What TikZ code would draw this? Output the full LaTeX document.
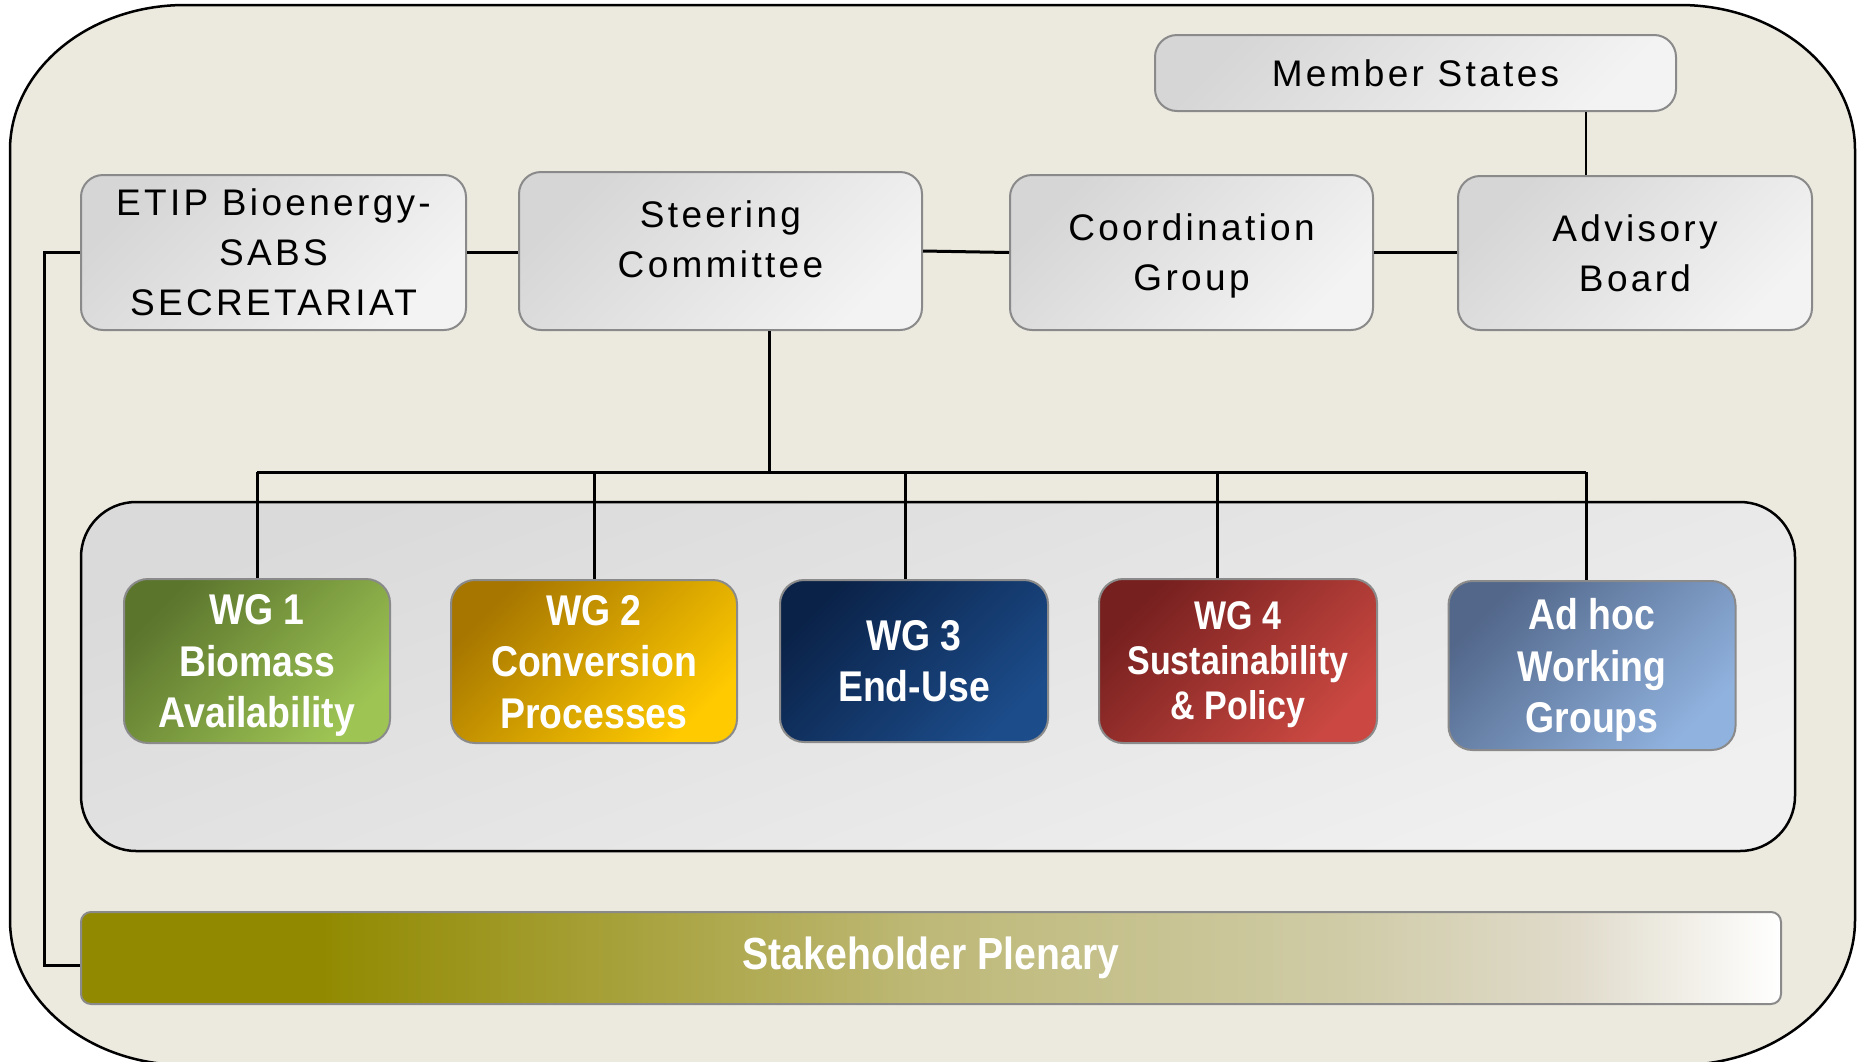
\documentclass[tikz,border=0pt]{standalone}
\usepackage{fontspec}
\setmainfont{Liberation Sans}
\newfontfamily\boxfont[LetterSpace=9]{Liberation Sans}
\newfontfamily\wgfont[FakeStretch=0.87]{Liberation Sans}
\newfontfamily\wgfontn[FakeStretch=0.85]{Liberation Sans}
\usetikzlibrary{calc}

\definecolor{bg}{HTML}{ECE9DF}
\definecolor{boxgrey}{HTML}{8A8A8A}
\definecolor{tA}{HTML}{D6D6D6}
\definecolor{tB}{HTML}{F3F3F3}
\definecolor{pA}{HTML}{DADADA}
\definecolor{pB}{HTML}{F0F0F0}
\definecolor{gOneA}{HTML}{5B752D}
\definecolor{gOneB}{HTML}{9EC454}
\definecolor{gTwoA}{HTML}{A67600}
\definecolor{gTwoB}{HTML}{FFCA00}
\definecolor{gThreeA}{HTML}{0A2248}
\definecolor{gThreeB}{HTML}{1C4C8A}
\definecolor{gFourA}{HTML}{76201F}
\definecolor{gFourB}{HTML}{CA4841}
\definecolor{gFiveA}{HTML}{52678A}
\definecolor{gFiveB}{HTML}{90B2DE}
\definecolor{olv}{HTML}{918A00}
\definecolor{olvmid}{HTML}{BEB978}
\definecolor{olvlt}{HTML}{CFCBA6}
\definecolor{olvvlt}{HTML}{E0DBCB}

\pgfdeclarehorizontalshading{plenary}{100bp}{color(0bp)=(olv); color(25bp)=(olv); color(32bp)=(olv); color(50bp)=(olvmid); color(62bp)=(olvlt); color(69bp)=(olvvlt); color(75bp)=(white); color(100bp)=(white)}

\tikzset{
  conn/.style={line width=3pt, black},
  topbox/.style={draw=boxgrey, line width=2pt, rounded corners=22pt,
    top color=tA, bottom color=tB, shading angle=45, inner sep=0pt,
    align=center, font={\boxfont\fontsize{37}{50}\selectfont}},
  wgbox/.style={draw=boxgrey, line width=2pt, rounded corners=24pt,
    inner sep=0pt, align=center, text=white, text depth=0pt,
    font={\wgfont\bfseries\fontsize{43}{51.5}\selectfont}},
  wgcol/.style 2 args={top color=#1, bottom color=#2, shading angle=45},
}

\begin{document}
\begin{tikzpicture}[x=1pt,y=-1pt]
\useasboundingbox (0,0) rectangle (1858,1061);
\clip (0,0) rectangle (1858,1061);
\fill[white] (0,0) rectangle (1858,1061);

% outer frame
\draw[fill=bg, line width=2.5pt]
  (185,5) -- (1680,5)
  arc[start angle=270, end angle=360, x radius=175, y radius=145]
  -- (1855,920)
  arc[start angle=0, end angle=90, x radius=175, y radius=145]
  -- (185,1065)
  arc[start angle=90, end angle=180, x radius=175, y radius=145]
  -- (10,150)
  arc[start angle=180, end angle=270, x radius=175, y radius=145]
  -- cycle;

% inner panel
\node[draw=black, line width=2.5pt, rounded corners=55pt, top color=pA, bottom color=pB,
  shading angle=20, minimum width=1714pt, minimum height=349pt, inner sep=0pt]
  (panel) at (938,676.5) {};

% top boxes
\node[topbox, minimum width=521pt, minimum height=76pt] (member) at (1415.5,73) {Member States};
\node[topbox, minimum width=385pt, minimum height=155pt] (etip) at (273.5,252.5) {ETIP Bioenergy-\\SABS\\SECRETARIAT};
\node[topbox, minimum width=403pt, minimum height=158pt, text depth=24pt] (steer) at (720.5,251) {Steering\\Committee};
\node[topbox, minimum width=363pt, minimum height=155pt, text depth=0pt] (coord) at (1191.5,252.5) {Coordination\\Group};
\node[topbox, minimum width=354pt, minimum height=154pt] (adv) at (1635,253) {Advisory\\Board};

% working groups
\node[wgbox, wgcol={gOneA}{gOneB}, minimum width=266pt, minimum height=164pt] (wg1) at (257,661) {WG 1\\Biomass\\Availability};
\node[wgbox, wgcol={gTwoA}{gTwoB}, minimum width=286pt, minimum height=163pt] (wg2) at (594,661.5) {WG 2\\Conversion\\Processes};
\node[wgbox, wgcol={gThreeA}{gThreeB}, minimum width=268pt, minimum height=162pt] (wg3) at (914,661) {WG 3\\End-Use};
\node[wgbox, wgcol={gFourA}{gFourB}, minimum width=278pt, minimum height=164pt,
  font={\wgfontn\bfseries\fontsize{40}{45}\selectfont}] (wg4) at (1238,661) {WG 4\\Sustainability\\\& Policy};
\node[wgbox, wgcol={gFiveA}{gFiveB}, minimum width=287pt, minimum height=169pt] (adhoc) at (1592,665.5) {Ad hoc\\Working\\Groups};

% stakeholder plenary
\node[draw=boxgrey, line width=2pt, rounded corners=10pt, shade, shading=plenary,
  minimum width=1700pt, minimum height=92pt, inner sep=0pt, text=white,
  font={\wgfont\bfseries\fontsize{45}{50}\selectfont}] (plen) at (931,958) {Stakeholder Plenary};

% connectors
\coordinate (msx) at (1586,0);
\coordinate (busL) at (257,472);
\coordinate (busR) at (1586,472);
\coordinate (busS) at (769,472);
\coordinate (dThree) at (905,472);
\coordinate (dFour) at (1217,472);
\coordinate (lx) at (44,0);
\coordinate (lbot) at (44,965);

\draw[conn] (etip.east) -- (steer.west |- etip.east);
\draw[conn] (steer.east) -- (coord.west);
\draw[conn] (coord.east) -- (adv.west |- coord.east);
\draw[line width=2.5pt] (member.south -| msx) -- (adv.north -| msx);

\draw[conn] (steer.south -| busS) -- (busS);
\draw[conn] (busL) -- (busR);
\draw[conn] (busL) -- (wg1.north);
\draw[conn] (wg2.north |- busL) -- (wg2.north);
\draw[conn] (dThree) -- (wg3.north -| dThree);
\draw[conn] (dFour) -- (wg4.north -| dFour);
\draw[conn] (busR) -- (adhoc.north -| busR);

\draw[conn] (etip.west) -- (etip.west -| lx) -- (lbot) -- (plen.west |- lbot);
\end{tikzpicture}
\end{document}
